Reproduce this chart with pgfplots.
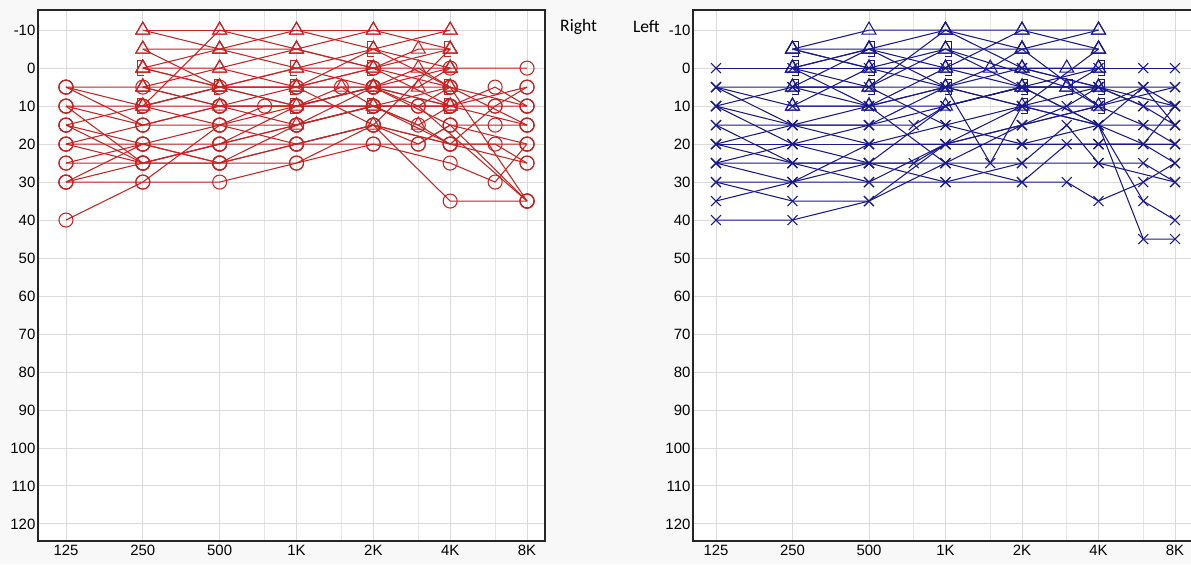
\documentclass[border=0pt]{standalone}
\usepackage{fontspec}
\setmainfont{Liberation Sans}
\newfontfamily\calibri{Carlito}
\usepackage{pgfplots}
\pgfplotsset{compat=1.18}

\definecolor{rred}{RGB}{200,35,35}
\definecolor{lblue}{RGB}{25,25,140}
\definecolor{gridc}{RGB}{218,218,218}
\definecolor{bgc}{RGB}{248,248,248}

% masking brackets: [ for right ear, ] for left ear
\pgfdeclareplotmark{lbr}{%
  \pgfpathmoveto{\pgfqpoint{0.1\pgfplotmarksize}{1.1\pgfplotmarksize}}%
  \pgfpathlineto{\pgfqpoint{-0.8\pgfplotmarksize}{1.1\pgfplotmarksize}}%
  \pgfpathlineto{\pgfqpoint{-0.8\pgfplotmarksize}{-1.1\pgfplotmarksize}}%
  \pgfpathlineto{\pgfqpoint{0.1\pgfplotmarksize}{-1.1\pgfplotmarksize}}%
  \pgfusepathqstroke}
\pgfdeclareplotmark{rbr}{%
  \pgfpathmoveto{\pgfqpoint{-0.1\pgfplotmarksize}{1.1\pgfplotmarksize}}%
  \pgfpathlineto{\pgfqpoint{0.8\pgfplotmarksize}{1.1\pgfplotmarksize}}%
  \pgfpathlineto{\pgfqpoint{0.8\pgfplotmarksize}{-1.1\pgfplotmarksize}}%
  \pgfpathlineto{\pgfqpoint{-0.1\pgfplotmarksize}{-1.1\pgfplotmarksize}}%
  \pgfusepathqstroke}

\pgfplotsset{
  audiogram/.style={
    scale only axis, height=10.62cm,
    y dir=reverse, ymin=-15.3, ymax=124.5,
    xtick={0,...,6}, xticklabels={125,250,500,1K,2K,4K,8K},
    minor xtick={2.585,3.585,4.585,5.585},
    ytick={-10,0,...,120},
    grid=both,
    major grid style={gridc, line width=0.5pt},
    minor grid style={gridc!70, line width=0.5pt},
    major tick length=0pt, minor tick length=0pt,
    axis line style={black!85, line width=1.1pt},
    axis background/.style={fill=white},
    /pgf/number format/assume math mode=true,
    ticklabel style={font=\fontsize{8.5}{10}\selectfont, inner sep=1.3pt},
    xticklabel style={yshift=-1pt},
    clip=false,
  },
  rac/.style={rred, line width=0.6pt, mark=o, mark size=4pt},
  rbc/.style={rred, line width=0.6pt, mark=triangle, mark size=4.6pt},
  rmk/.style={rred, line width=0.6pt, mark=lbr, mark size=4pt},
  lac/.style={lblue, line width=0.6pt, mark=x, mark size=4pt},
  lbc/.style={lblue, line width=0.6pt, mark=triangle, mark size=4.6pt},
  lmk/.style={lblue, line width=0.6pt, mark=rbr, mark size=4pt},
}

\begin{document}
\begin{tikzpicture}
\fill[bgc] (0cm,0cm) rectangle (23.82cm,11.28cm);

% ---------------- right ear ----------------
\begin{axis}[audiogram, at={(0.76cm,11.08cm)}, anchor=north west,
  width=10.14cm, xmin=-0.364, xmax=6.234]
% air conduction
\addplot[rac] coordinates {(0,5)(1,10)(2,10)(3,10)(4,5)(5,5)(6,10)};
\addplot[rac] coordinates {(0,10)(1,15)(2,15)(2.585,10)(3,10)(3.585,5)(4,5)(5,10)(5.585,10)(6,5)};
\addplot[rac] coordinates {(0,15)(1,25)(2,20)(3,15)(4,10)(5,5)(6,35)};
\addplot[rac] coordinates {(0,20)(1,20)(2,25)(3,20)(4,15)(5,20)(5.585,20)(6,25)};
\addplot[rac] coordinates {(0,25)(1,25)(2,25)(3,25)(4,15)(5,35)(6,35)};
\addplot[rac] coordinates {(0,30)(1,30)(2,30)(3,25)(4,20)(5,25)(5.585,30)(6,20)};
\addplot[rac] coordinates {(0,40)(1,30)(2,15)(3,15)(4,10)(5,10)(6,15)};
\addplot[rac] coordinates {(0,5)(1,5)(2,10)(3,10)(4,10)(4.585,10)(6,35)};
\addplot[rac] coordinates {(0,15)(1,20)(2,20)(3,20)(4,20)(4.585,20)(5,15)(5.585,15)(6,15)};
\addplot[rac] coordinates {(0,20)(1,15)(2,10)(3,5)(4,0)(5,0)(6,0)};
\addplot[rac] coordinates {(0,25)(1,20)(2,15)(3,10)(4,5)(5,15)(6,20)};
\addplot[rac] coordinates {(0,10)(1,10)(2,5)(3,5)(4,0)(5,10)(5.585,5)(6,10)};
\addplot[rac] coordinates {(0,30)(1,25)(2,20)(3,15)(4,10)(4.585,15)(5,20)(6,25)};
\addplot[rac] coordinates {(0,15)(1,10)(2,15)(3,20)(4,15)(5,20)(6,20)};
\addplot[rac] coordinates {(0,10)(1,25)(2,25)(3,15)(4,5)(5,10)(6,5)};
\addplot[rac] coordinates {(0,20)(1,25)(2,20)(3,10)(4,10)(5,20)(5.585,10)(6,10)};
\addplot[rac] coordinates {(0,5)(1,15)(2,10)(3,10)(4,5)(4.585,10)(5,5)(6,15)};
\addplot[rac] coordinates {(0,30)(1,20)(2,25)(3,20)(4,15)(4.585,20)(5,15)(6,35)};
% bone conduction
\addplot[rbc] coordinates {(1,-10)(2,-10)(3,-10)(4,-10)(5,-10)};
\addplot[rbc] coordinates {(1,-5)(2,-5)(3,0)(4,-5)(5,-10)};
\addplot[rbc] coordinates {(1,0)(2,0)(3,-5)(4,0)(4.585,-5)(5,-5)};
\addplot[rbc] coordinates {(1,5)(2,0)(3,5)(4,5)(4.585,5)(5,0)};
\addplot[rbc] coordinates {(1,10)(2,-10)(3,-5)(4,0)(5,5)};
\addplot[rbc] coordinates {(1,5)(2,10)(3,15)(4,10)(4.585,15)(5,10)};
\addplot[rbc] coordinates {(1,-5)(2,5)(3,0)(4,5)(4.585,0)(5,5)};
\addplot[rbc] coordinates {(1,10)(2,5)(3,5)(4,15)(5,-5)};
\addplot[rbc] coordinates {(1,0)(2,-5)(3,-10)(4,-5)(5,0)};
\addplot[rbc] coordinates {(1,-10)(2,-5)(3,-5)(4,-10)(5,-5)};
\addplot[rbc] coordinates {(1,0)(2,5)(3,10)(4,5)(5,0)};
\addplot[rbc] coordinates {(1,5)(2,5)(3,5)(3.585,5)(4,10)(5,10)};
% masked bone conduction
\addplot[rmk] coordinates {(1,0)(2,5)(3,0)(4,0)(5,-5)};
\addplot[rmk] coordinates {(1,10)(2,5)(3,10)(4,10)(5,10)};
\addplot[rmk] coordinates {(3,5)(4,-5)(5,5)};
\end{axis}
\node[font=\calibri\fontsize{10}{12}\selectfont, anchor=west] at (11.08cm,10.74cm) {Right};

% ---------------- left ear ----------------
\begin{axis}[audiogram, at={(13.86cm,11.08cm)}, anchor=north west,
  width=10.0cm, xmin=-0.30, xmax=6.235]
% air conduction
\addplot[lac] coordinates {(0,0)(1,0)(2,0)(3,0)(4,0)(5,0)(5.585,0)(6,0)};
\addplot[lac] coordinates {(0,5)(1,15)(2,15)(3,10)(4,5)(5,5)(5.585,10)(6,15)};
\addplot[lac] coordinates {(0,10)(1,15)(2,20)(3,20)(4,15)(5,10)(5.585,5)(6,10)};
\addplot[lac] coordinates {(0,15)(1,15)(2,15)(2.585,15)(3,10)(4,5)(5,15)(5.585,20)(6,25)};
\addplot[lac] coordinates {(0,20)(1,20)(2,20)(3,20)(4,20)(5,20)(6,20)};
\addplot[lac] coordinates {(0,20)(1,25)(2,25)(2.585,25)(3,20)(4,10)(5,10)(5.585,15)(6,15)};
\addplot[lac] coordinates {(0,25)(1,25)(2,25)(3,25)(4,25)(5,25)(5.585,25)(6,30)};
\addplot[lac] coordinates {(0,25)(1,20)(2,15)(3,5)(4,5)(5,15)(5.585,35)(6,40)};
\addplot[lac] coordinates {(0,30)(1,30)(2,30)(3,30)(4,30)(4.585,30)(5,35)(5.585,30)(6,25)};
\addplot[lac] coordinates {(0,30)(1,35)(2,35)(3,25)(4,15)(5,10)(6,5)};
\addplot[lac] coordinates {(0,35)(1,30)(2,20)(3,15)(4,10)(5,15)(5.585,45)(6,45)};
\addplot[lac] coordinates {(0,40)(1,40)(2,35)(3,20)(4,20)(5,20)(5.585,20)(6,10)};
\addplot[lac] coordinates {(0,10)(1,20)(2,25)(3,30)(4,25)(4.585,15)(5,25)(6,30)};
\addplot[lac] coordinates {(0,15)(1,25)(2,30)(3,20)(4,15)(4.585,10)(5,5)(5.585,10)(6,10)};
\addplot[lac] coordinates {(0,5)(1,10)(2,10)(3,5)(3.585,25)(4,10)(5,15)(5.585,5)(6,5)};
\addplot[lac] coordinates {(0,5)(1,5)(2,10)(3,5)(4,0)(5,5)(6,10)};
\addplot[lac] coordinates {(0,10)(1,5)(2,5)(3,15)(4,20)(5,15)(5.585,15)(6,20)};
\addplot[lac] coordinates {(0,20)(1,15)(2,10)(3,25)(4,30)(4.585,20)(5,20)(6,20)};
\addplot[lac] coordinates {(0,25)(1,30)(2,25)(3,10)(4,5)(5,5)(5.585,5)(6,15)};
% bone conduction
\addplot[lbc] coordinates {(1,-5)(2,-10)(3,-10)(4,-10)(5,-10)};
\addplot[lbc] coordinates {(1,0)(2,-5)(3,-5)(4,-5)(5,-5)};
\addplot[lbc] coordinates {(1,5)(2,5)(3,-10)(4,0)(4.585,0)(5,0)};
\addplot[lbc] coordinates {(1,10)(2,10)(3,10)(4,5)(4.585,5)(5,5)};
\addplot[lbc] coordinates {(1,0)(2,5)(3,5)(3.585,0)(4,-5)(5,10)};
\addplot[lbc] coordinates {(1,-5)(2,0)(3,5)(4,10)(5,-5)};
\addplot[lbc] coordinates {(1,5)(2,-5)(3,0)(4,0)(5,5)};
\addplot[lbc] coordinates {(1,-5)(2,-5)(3,-10)(4,-5)(5,-10)};
\addplot[lbc] coordinates {(1,10)(2,0)(3,-5)(4,5)(4.585,5)(5,0)};
\addplot[lbc] coordinates {(1,0)(2,10)(3,0)(4,-10)(5,-5)};
% masked bone conduction
\addplot[lmk] coordinates {(1,-5)(2,0)(3,0)(4,5)(5,0)};
\addplot[lmk] coordinates {(1,0)(2,-5)(3,5)(4,10)(5,5)};
\addplot[lmk] coordinates {(1,5)(2,5)(3,-5)(4.585,5)(5,10)};
\end{axis}
\node[font=\calibri\fontsize{10}{12}\selectfont, anchor=east] at (13.32cm,10.74cm) {Left};

\pgfresetboundingbox
\path[use as bounding box] (0cm,0cm) rectangle (23.82cm,11.28cm);
\end{tikzpicture}
\end{document}
